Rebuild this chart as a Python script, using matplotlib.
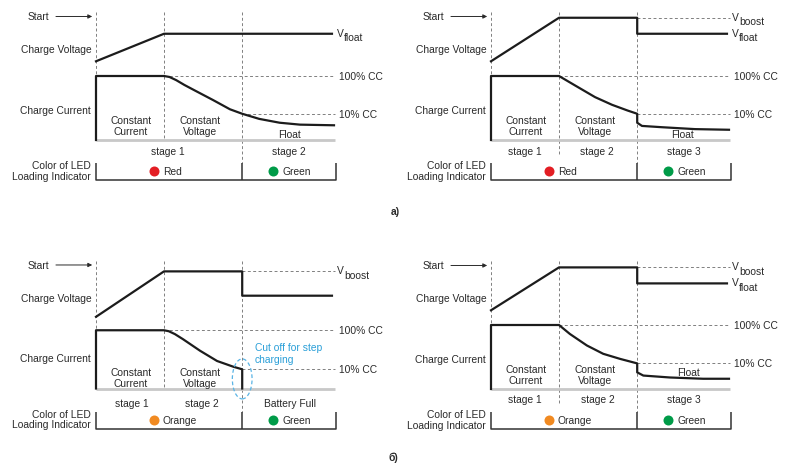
#!/usr/bin/env python3
"""
Charge stages of a lead-acid charger: voltage / current profiles and LED colour.
"""
import matplotlib.pyplot as plt
from matplotlib.patches import Ellipse

plt.rcParams["font.family"] = ["Liberation Sans", "DejaVu Sans"]

TXT = "#2a2a2a"
INK = "#1c1c1c"
DASH = "#808080"
BASE = "#c8c8c8"
RED = "#e31e24"
GREEN = "#009b48"
ORANGE = "#f18a21"
BLUE = "#2a9fd8"
FS = 7.4

# stage boundaries in time units (same for every panel)
T_CV = 1.0
T_END_CV = 2.15
T_END = 3.52

# a) left: two-stage charger
a1_volt_t = [0.0, 1.0, 3.47]
a1_volt_v = [1.23, 1.66, 1.66]
a1_curr_t = [0.0, 0.0, 1.0, 1.08, 1.18, 1.3, 1.46, 1.72, 1.97, 2.15, 2.4, 2.7, 3.0, 3.5]
a1_curr_i = [0.0, 1.0, 1.0, 0.985, 0.935, 0.86, 0.77, 0.625, 0.48, 0.41, 0.33, 0.27, 0.24, 0.23]
a1_stages = ["stage 1", "stage 2"]
a1_stage_t = [1.06, 2.84]
a1_leds = ["Red", "Green"]

# a) right: three-stage charger
a2_volt_t = [0.0, 1.0, 2.15, 2.15, 3.47]
a2_volt_v = [1.23, 1.91, 1.91, 1.66, 1.66]
a2_curr_t = [0.0, 0.0, 1.0, 1.24, 1.53, 1.78, 2.01, 2.15, 2.15, 2.22, 2.51, 3.0, 3.5]
a2_curr_i = [0.0, 1.0, 1.0, 0.85, 0.67, 0.55, 0.46, 0.41, 0.27, 0.22, 0.20, 0.17, 0.16]
a2_stages = ["stage 1", "stage 2", "stage 3"]
a2_stage_t = [0.49, 1.56, 2.84]
a2_leds = ["Red", "Green"]

# б) left: step charging with cut off
b1_volt_t = [0.0, 1.0, 2.15, 2.15, 3.47]
b1_volt_v = [1.12, 1.83, 1.83, 1.45, 1.45]
b1_curr_t = [0.0, 0.0, 1.0, 1.07, 1.16, 1.28, 1.53, 1.78, 2.02, 2.15, 2.15]
b1_curr_i = [0.0, 0.91, 0.91, 0.895, 0.85, 0.77, 0.59, 0.43, 0.34, 0.30, 0.0]
b1_stages = ["stage 1", "stage 2", "Battery Full"]
b1_stage_t = [0.52, 1.55, 2.85]
b1_leds = ["Orange", "Green"]

# б) right: three-stage charger
b2_volt_t = [0.0, 1.0, 2.15, 2.15, 3.47]
b2_volt_v = [1.23, 1.90, 1.90, 1.65, 1.65]
b2_curr_t = [0.0, 0.0, 1.0, 1.16, 1.41, 1.65, 1.90, 2.15, 2.15, 2.24, 2.63, 3.12, 3.5]
b2_curr_i = [0.0, 1.0, 1.0, 0.86, 0.68, 0.55, 0.47, 0.40, 0.26, 0.21, 0.18, 0.16, 0.16]
b2_stages = ["stage 1", "stage 2", "stage 3"]
b2_stage_t = [0.49, 1.57, 2.84]
b2_leds = ["Orange", "Green"]

LED_COLORS = {"Red": RED, "Green": GREEN, "Orange": ORANGE}


def dashed(ax, xs, ys):
    ax.plot(xs, ys, color=DASH, lw=0.7, dashes=(3, 2.5), zorder=1)


def txt(ax, x, y, s, **kw):
    opts = dict(fontsize=FS, color=TXT, ha="center", va="center")
    opts.update(kw)
    ax.text(x, y, s, **opts)


def v_label(ax, y, sub):
    ax.annotate("V", (3.55, y), xytext=(0, 0.8), textcoords="offset points",
                fontsize=FS, color=TXT, ha="left", va="center")
    ax.annotate(sub, (3.55, y), xytext=(4.6, -2.4), textcoords="offset points",
                fontsize=FS, color=TXT, ha="left", va="center")


def draw_panel(ax, volt_t, volt_v, curr_t, curr_i, i_low, stages, stage_t,
               stage_y, leds, region_y, float_pos, v_boost, v_float, split_cc):
    i_full = max(curr_i)

    # guide lines
    dashed(ax, [0, 0], [2.0, i_full])
    dashed(ax, [T_CV, T_CV], [2.0, -0.25 if split_cc else 0.0])
    dashed(ax, [T_END_CV, T_END_CV], [2.0, -0.36])
    dashed(ax, [T_CV, T_END], [i_full, i_full])
    dashed(ax, [T_END_CV, T_END], [i_low, i_low])
    if v_boost is not None:
        dashed(ax, [T_END_CV, T_END], [v_boost, v_boost])
    ax.plot([0, T_END], [0, 0], color=BASE, lw=2.0, solid_capstyle="butt", zorder=1)

    # profiles
    ax.plot(volt_t, volt_v, color=INK, lw=1.6, zorder=3)
    ax.plot(curr_t, curr_i, color=INK, lw=1.6, zorder=3, solid_joinstyle="round")

    # start arrow and row labels
    txt(ax, -0.69, 1.93, "Start", ha="right")
    ax.annotate("", xy=(-0.015, 1.93), xytext=(-0.63, 1.93),
                arrowprops=dict(arrowstyle="-|>", color=TXT, lw=0.7, mutation_scale=6))
    txt(ax, -0.07, 1.42, "Charge Voltage", ha="right")
    txt(ax, -0.07, 0.47, "Charge Current", ha="right")
    txt(ax, -0.07, -0.475, "Color of LED\nLoading Indicator", ha="right",
        multialignment="right", linespacing=1.05)

    # right labels
    if v_boost is not None:
        v_label(ax, v_boost, "boost")
    if v_float is not None:
        v_label(ax, v_float, "float")
    txt(ax, 3.57, i_full, "100% CC", ha="left")
    txt(ax, 3.57, i_low, "10% CC", ha="left")

    # region names
    txt(ax, 0.51, region_y, "Constant\nCurrent", linespacing=1.15)
    txt(ax, 1.53, region_y, "Constant\nVoltage", linespacing=1.15)
    if float_pos is not None:
        txt(ax, float_pos[0], float_pos[1], "Float")
    for name, t in zip(stages, stage_t):
        txt(ax, t, stage_y, name)

    # LED indicator row
    box = dict(color="#333333", lw=1.1, solid_capstyle="butt", zorder=2)
    ax.plot([0, 0, 3.53, 3.53], [-0.36, -0.63, -0.63, -0.36], **box)
    ax.plot([T_END_CV, T_END_CV], [-0.36, -0.63], **box)
    for name, t in zip(leds, [0.85, 2.61]):
        ax.plot(t, -0.49, "o", ms=7.2, color=LED_COLORS[name], mec="none")
        txt(ax, t + 0.13, -0.49, name, ha="left")


fig = plt.figure(figsize=(7.9, 4.77), dpi=100)
W, H = 790, 477
origins = [(96, 141), (491, 141), (96, 389.5), (491, 390)]
axes = []
for x0, y0 in origins:
    left, top = x0 - 96, y0 - 141
    ax = fig.add_axes([left / W, 1 - (top + 225) / H, 395 / W, 225 / H])
    ax.set_xlim(-96 / 68, 299 / 68)
    ax.set_ylim(-84 / 64, 141 / 64)
    ax.axis("off")
    axes.append(ax)

draw_panel(axes[0], a1_volt_t, a1_volt_v, a1_curr_t, a1_curr_i, 0.41, a1_stages,
           a1_stage_t, -0.17, a1_leds, 0.23, (2.84, 0.09), None, 1.66, False)
draw_panel(axes[1], a2_volt_t, a2_volt_v, a2_curr_t, a2_curr_i, 0.41, a2_stages,
           a2_stage_t, -0.17, a2_leds, 0.23, (2.81, 0.09), 1.91, 1.66, True)
draw_panel(axes[2], b1_volt_t, b1_volt_v, b1_curr_t, b1_curr_i, 0.30, b1_stages,
           b1_stage_t, -0.23, b1_leds, 0.175, None, 1.83, None, False)
draw_panel(axes[3], b2_volt_t, b2_volt_v, b2_curr_t, b2_curr_i, 0.40, b2_stages,
           b2_stage_t, -0.16, b2_leds, 0.23, (2.90, 0.27), 1.90, 1.65, True)

# cut off marker in the step-charging panel
axes[2].add_patch(Ellipse((T_END_CV, 0.15), 0.29, 0.625, fill=False, ec="#5ab4e5",
                          lw=0.9, ls=(0, (3, 2)), zorder=4))
txt(axes[2], 2.34, 0.55, "Cut off for step\ncharging", ha="left", color=BLUE,
    linespacing=1.25)

fig.text(395 / W, 1 - 212 / H, "a)", fontsize=FS, fontweight="bold", color=TXT,
         ha="center", va="center")
fig.text(393 / W, 1 - 458 / H, "б)", fontsize=FS, fontweight="bold", color=TXT,
         ha="center", va="center")

fig.savefig("out.png", dpi=100)
